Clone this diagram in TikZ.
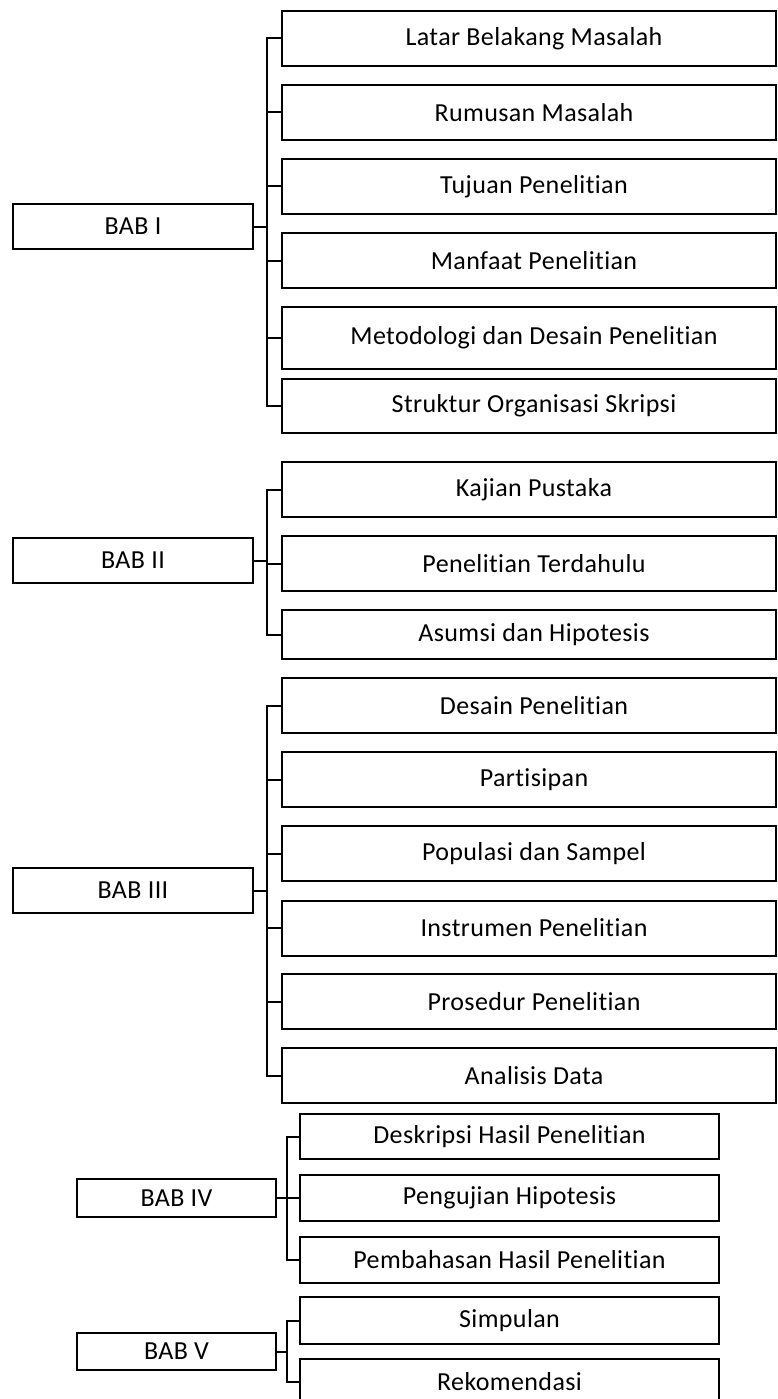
\documentclass[tikz,border=0pt]{standalone}
\usepackage{fontspec}
\setmainfont{Carlito}[LetterSpace=1.5, Ligatures=NoCommon]

\begin{document}
\begin{tikzpicture}[
    x=1pt, y=-1pt,
    line width=2pt,
    every node/.style={draw, line width=2pt, inner sep=0pt, font=\fontsize{26}{30}\selectfont, align=center},
    bab/.style={minimum width=240pt, minimum height=45pt},
    babsmall/.style={minimum width=199pt, minimum height=38pt},
    isi/.style={minimum width=494pt, minimum height=55pt, execute at begin node=\hspace*{10pt}},
    isismall/.style={minimum width=419pt, minimum height=46pt}
]
    \useasboundingbox (0,0) rectangle (778,1399);

    % BAB I
    \node[bab] (bab1) at (133,226.5) {BAB I};
    \node[isi] (latar) at (529,38.5) {Latar Belakang Masalah};
    \node[isi] (rumusan) at (529,112.5) {Rumusan Masalah};
    \node[isi] (tujuan) at (529,186.5) {Tujuan Penelitian};
    \node[isi] (manfaat) at (529,260.5) {Manfaat Penelitian};
    \node[isi, minimum height=62pt] (metodologi) at (529,338) {Metodologi dan Desain Penelitian};
    \node[isi, minimum height=54pt] (struktur) at (529,406) {Struktur Organisasi Skripsi};

    % BAB II
    \node[bab] (bab2) at (133,560.5) {BAB II};
    \node[isi] (kajian) at (529,489.5) {Kajian Pustaka};
    \node[isi] (terdahulu) at (529,563.5) {Penelitian Terdahulu};
    \node[isi, minimum height=49pt] (asumsi) at (529,634.5) {Asumsi dan Hipotesis};

    % BAB III
    \node[bab] (bab3) at (133,890.5) {BAB III};
    \node[isi] (desain) at (529,705.5) {Desain Penelitian};
    \node[isi] (partisipan) at (529,779.5) {Partisipan};
    \node[isi] (populasi) at (529,853.5) {Populasi dan Sampel};
    \node[isi] (instrumen) at (529,928) {Instrumen Penelitian};
    \node[isi] (prosedur) at (529,1001.5) {Prosedur Penelitian};
    \node[isi] (analisis) at (529,1075.5) {Analisis Data};

    % BAB IV
    \node[babsmall] (bab4) at (176.5,1198) {BAB IV};
    \node[isismall, minimum height=45pt] (deskripsi) at (509.5,1136.5) {Deskripsi Hasil Penelitian};
    \node[isismall] (pengujian) at (509.5,1198) {Pengujian Hipotesis};
    \node[isismall] (pembahasan) at (509.5,1260) {Pembahasan Hasil Penelitian};

    % BAB V
    \node[babsmall, minimum height=37pt] (bab5) at (176.5,1351.5) {BAB V};
    \node[isismall, minimum height=47pt] (simpulan) at (509.5,1320.5) {Simpulan};
    \node[isismall] (rekomendasi) at (509.5,1382) {Rekomendasi};

    % connectors
    \foreach \c in {latar,rumusan,tujuan,manfaat,metodologi,struktur}
        \draw (\c.west) -- ++(-14,0) |- (bab1.east);
    \foreach \c in {kajian,terdahulu,asumsi}
        \draw (\c.west) -- ++(-14,0) |- (bab2.east);
    \foreach \c in {desain,partisipan,populasi,instrumen,prosedur,analisis}
        \draw (\c.west) -- ++(-14,0) |- (bab3.east);
    \foreach \c in {deskripsi,pengujian,pembahasan}
        \draw (\c.west) -- ++(-12,0) |- (bab4.east);
    \foreach \c in {simpulan,rekomendasi}
        \draw (\c.west) -- ++(-12,0) |- (bab5.east);
\end{tikzpicture}
\end{document}
